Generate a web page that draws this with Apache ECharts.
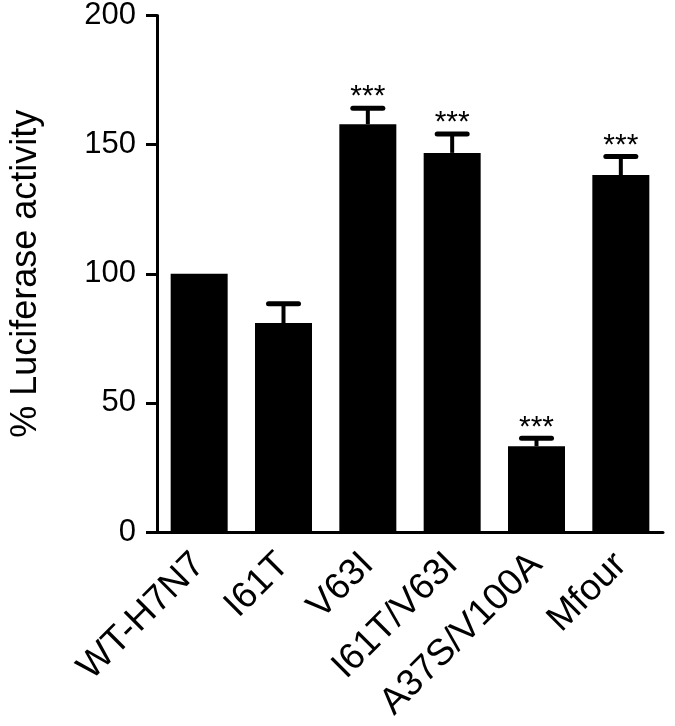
<!DOCTYPE html>
<html>
<head>
<meta charset="utf-8">
<script src="https://cdn.jsdelivr.net/npm/echarts@6/dist/echarts.min.js"></script>
<style>
  html, body { margin: 0; padding: 0; background: #ffffff; }
  #chart { width: 675px; height: 726px; }
</style>
</head>
<body>
<div id="chart"></div>
<script>
// values
const categories = ['WT-H7N7', 'I61T', 'V63I', 'I61T/V63I', 'A37S/V100A', 'Mfour']
const means = [100, 80.9, 157.9, 146.8, 33.2, 138.2]
const upperErr = [100, 88.4, 164.1, 154.1, 36.3, 145.4]
const marks = ['', '', '***', '***', '***', '***']
const yTicks = [0, 50, 100, 150, 200]

const font = 'Liberation Sans, Arial, Helvetica, sans-serif'
const chart = echarts.init(document.getElementById('chart'))

const errData = categories.map((c, i) => [i, means[i], upperErr[i], marks[i]])

const option = {
  backgroundColor: '#ffffff',
  animation: false,
  grid: { left: 154, right: 12, top: 15, bottom: 194 },
  xAxis: {
    type: 'category',
    data: categories,
    axisLine: { lineStyle: { color: '#000', width: 3 } },
    axisTick: { alignWithLabel: true, length: 12, lineStyle: { color: '#000', width: 3 } },
    axisLabel: {
      rotate: 45, margin: 27, color: '#000', fontSize: 37, fontFamily: font, interval: 0
    }
  },
  yAxis: {
    type: 'value',
    min: yTicks[0],
    max: yTicks[yTicks.length - 1],
    interval: 50,
    name: '% Luciferase activity',
    nameLocation: 'middle',
    nameGap: 113,
    nameTextStyle: { color: '#000', fontSize: 36, fontFamily: font },
    splitLine: { show: false },
    axisLine: { show: true, lineStyle: { color: '#000', width: 3 } },
    axisTick: { show: true, length: 11, lineStyle: { color: '#000', width: 3 } },
    axisLabel: { color: '#000', fontSize: 31, fontFamily: font, margin: 21 }
  },
  series: [{
    type: 'bar',
    data: means,
    barWidth: 57,
    itemStyle: { color: '#000' }
  }, {
    type: 'custom',
    data: errData,
    z: 5,
    renderItem: function (params, api) {
      const x = api.value(0)
      const base = api.coord([x, api.value(1)])
      const top = api.coord([x, api.value(2)])
      const half = 15
      const children = []
      // no error bar drawn when there is no spread (control bar)
      if (api.value(2) > api.value(1)) {
        children.push({
          type: 'line',
          shape: { x1: base[0], y1: base[1], x2: top[0], y2: top[1] },
          style: { stroke: '#000', lineWidth: 4 }
        }, {
          type: 'line',
          shape: { x1: top[0] - half, y1: top[1], x2: top[0] + half, y2: top[1] },
          style: { stroke: '#000', lineWidth: 5, lineCap: 'round' }
        })
      }
      const txt = errData[params.dataIndex][3]
      if (txt) {
        children.push({
          type: 'text',
          x: top[0],
          y: top[1] - 11,
          style: {
            text: txt, fill: '#000', fontSize: 30, fontFamily: font,
            align: 'center', verticalAlign: 'middle'
          }
        })
      }
      return { type: 'group', children: children }
    }
  }]
}

chart.setOption(option)
</script>
</body>
</html>
